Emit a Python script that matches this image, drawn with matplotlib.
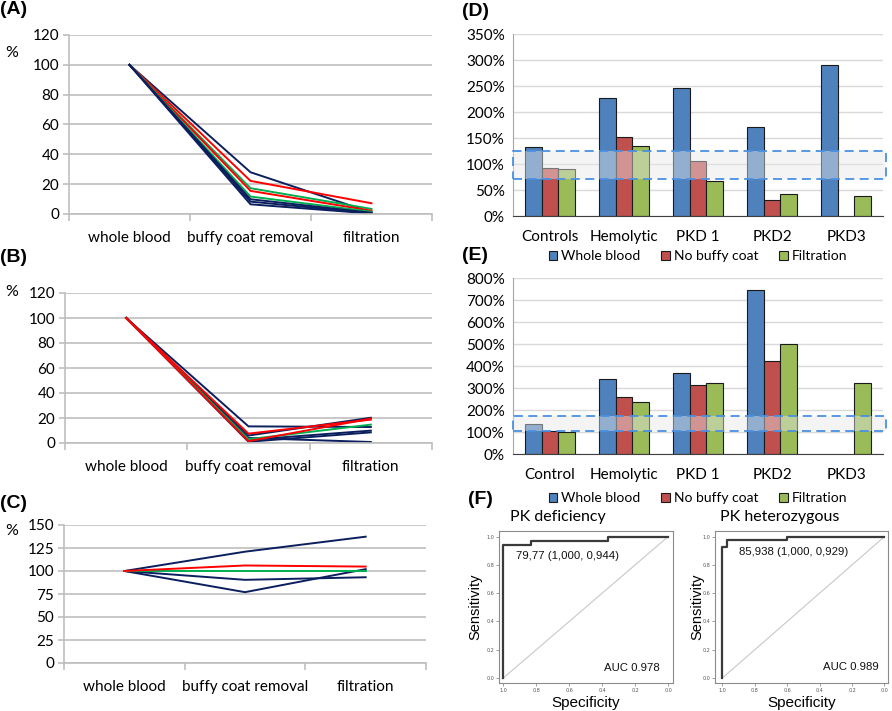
import matplotlib
matplotlib.use("Agg")
import matplotlib.pyplot as plt
from matplotlib.patches import Rectangle
import numpy as np

W, H = 892, 711
fig = plt.figure(figsize=(W / 100, H / 100), dpi=100)

LAT = "Lato"
ARI = "Liberation Sans"
NAVY = "#0B1F5E"
RED = "#FF0000"
GREEN = "#00B050"
GRID = "#BFBFBF"

# ---------------- data ----------------
steps = ["whole blood", "buffy coat removal", "filtration"]

# panel A: % of whole blood value
A_colors = [NAVY, RED, GREEN, RED, GREEN, NAVY, NAVY, NAVY]
A_values = [
    [100, 28.0, 1.0],
    [100, 22.2, 7.2],
    [100, 17.3, 3.4],
    [100, 15.5, 2.2],
    [100, 11.7, 1.5],
    [100, 9.9, 0.8],
    [100, 8.3, 0.5],
    [100, 6.5, 0.3],
]
# panel B
B_colors = [NAVY, NAVY, NAVY, NAVY, NAVY, GREEN, RED, RED]
B_values = [
    [100, 13.3, 12.8],
    [100, 6.0, 20.2],
    [100, 2.5, 9.9],
    [100, 1.0, 8.5],
    [100, 4.0, 0.8],
    [100, 3.0, 14.7],
    [100, 7.5, 18.7],
    [100, 1.5, 19.5],
]
# panel C
C_colors = [NAVY, NAVY, NAVY, GREEN, RED]
C_values = [
    [100, 121, 137.3],
    [100, 90.4, 93.2],
    [100, 77, 102],
    [100, 100, 100],
    [100, 106, 104.8],
]

D_categories = ["Controls", "Hemolytic", "PKD 1", "PKD2", "PKD3"]
D_whole = [133, 227, 246, 171, 290]
D_nobuffy = [92, 152, 106, 31, np.nan]
D_filtr = [90, 135, 67, 43, 39]
D_band = (72, 125)

E_categories = ["Control", "Hemolytic", "PKD 1", "PKD2", "PKD3"]
E_whole = [138, 343, 370, 747, np.nan]
E_nobuffy = [103, 259, 313, 423, np.nan]
E_filtr = [102, 235, 325, 501, 322]
E_band = (106, 175)

series_names = ["Whole blood", "No buffy coat", "Filtration"]
bar_colors = ["#4F81BD", "#C0504D", "#9BBB59"]

# ROC curves (specificity, sensitivity)
roc1_spec = [1.0, 1.0, 0.83, 0.83, 0.365, 0.365, 0.0]
roc1_sens = [0.0, 0.944, 0.944, 0.972, 0.972, 1.0, 1.0]
roc2_spec = [1.0, 1.0, 0.973, 0.973, 0.599, 0.599, 0.0]
roc2_sens = [0.0, 0.929, 0.929, 0.976, 0.976, 1.0, 1.0]


def add_ax(l, t, r, b):
    return fig.add_axes([l / W, 1 - b / H, (r - l) / W, (b - t) / H])


def fig_text(x, y, s, **kw):
    fig.text(x / W, 1 - y / H, s, **kw)


# ---------------- line panels ----------------
def line_panel(box, values, colors, ymax, ystep, pct_y):
    ax = add_ax(*box)
    x = np.arange(len(steps))
    for v, c in zip(values, colors):
        ax.plot(x, v, color=c, lw=1.4, solid_joinstyle="miter")
    ax.set_xlim(-0.5, 2.5)
    ax.set_ylim(0, ymax)
    ax.set_yticks(np.arange(0, ymax + 1, ystep))
    ax.yaxis.grid(True, color=GRID, lw=1.2)
    ax.set_axisbelow(True)
    for s in ["top", "right"]:
        ax.spines[s].set_visible(False)
    ax.spines["left"].set_color(GRID)
    ax.spines["bottom"].set_color(GRID)
    ax.spines["left"].set_linewidth(1.2)
    ax.spines["bottom"].set_linewidth(1.2)
    ax.set_xticks(x)
    ax.set_xticklabels(steps, fontfamily=LAT, fontsize=11)
    ax.set_xticks([-0.5, 0.5, 1.5, 2.5], minor=True)
    ax.tick_params(axis="x", which="major", length=0, pad=12)
    ax.tick_params(axis="x", which="minor", length=5, color=GRID, width=1.2)
    ax.tick_params(axis="y", length=4, color=GRID, width=1.2, pad=3)
    for lab in ax.get_yticklabels():
        lab.set_fontfamily(LAT)
        lab.set_fontsize(11)
    fig_text(12, pct_y, "%", fontfamily=LAT, fontsize=11.5, ha="center", va="center")
    return ax


line_panel((69, 35, 432, 214), A_values, A_colors, 120, 20, 53)
line_panel((65, 293, 432, 443), B_values, B_colors, 120, 20, 292)
line_panel((64, 525, 426, 663), C_values, C_colors, 150, 25, 531)


# ---------------- bar panels ----------------
def bar_panel(box, cats, series, ymax, ystep, band, leg_y):
    ax = add_ax(*box)
    x = np.arange(len(cats))
    bw = 0.225
    handles = []
    for i, (vals, col, name) in enumerate(zip(series, bar_colors, series_names)):
        h = ax.bar(x + (i - 1) * bw, vals, bw, color=col, edgecolor="#1A1A1A",
                   lw=0.8, label=name, zorder=2)
        handles.append(h)
    ax.set_xlim(-0.5, len(cats) - 0.5)
    ax.set_ylim(0, ymax)
    ax.set_yticks(np.arange(0, ymax + 1, ystep))
    ax.set_yticklabels([f"{int(v)}%" for v in np.arange(0, ymax + 1, ystep)],
                       fontfamily=LAT, fontsize=11)
    ax.yaxis.grid(True, color="#D9D9D9", lw=1.0)
    ax.set_axisbelow(True)
    for s in ["top", "right"]:
        ax.spines[s].set_visible(False)
    ax.spines["left"].set_color("#A6A6A6")
    ax.spines["bottom"].set_color("#404040")
    ax.set_xticks(x)
    ax.set_xticklabels(cats, fontfamily=LAT, fontsize=11)
    ax.tick_params(axis="x", length=0, pad=10)
    ax.tick_params(axis="y", length=0, pad=6)
    rect = Rectangle((-0.5, band[0]), len(cats) + 0.045, band[1] - band[0],
                     facecolor="#E8E8E8", alpha=0.45, edgecolor="none",
                     zorder=3, clip_on=False)
    ax.add_patch(rect)
    rect2 = Rectangle((-0.5, band[0]), len(cats) + 0.045, band[1] - band[0],
                      facecolor="none", edgecolor="#4A90E2", lw=1.3,
                      ls=(0, (5, 3)), zorder=4, clip_on=False)
    ax.add_patch(rect2)
    ax.legend(handles=handles, loc="center", bbox_to_anchor=(0.5, leg_y),
              ncol=3, frameon=False, handlelength=0.6, handleheight=0.6,
              handletextpad=0.3, columnspacing=1.5,
              prop={"family": LAT, "size": 10})
    return ax


bar_panel((513, 34, 883, 216), D_categories, [D_whole, D_nobuffy, D_filtr],
          350, 50, D_band, -0.22)
bar_panel((513, 278, 883, 454), E_categories, [E_whole, E_nobuffy, E_filtr],
          800, 100, E_band, -0.25)


# ---------------- ROC panels ----------------
def roc_panel(box, xl, yl, spec, sens, title, tx, note, note_xy, auc, auc_xy, ylab_x):
    ax = add_ax(*box)
    ax.plot([1, 0], [0, 1], color="#C8C8C8", lw=0.8)
    ax.plot(spec, sens, color="#3A3A3A", lw=1.6)
    ax.set_xlim(*xl)
    ax.set_ylim(*yl)
    ticks = [1.0, 0.8, 0.6, 0.4, 0.2, 0.0]
    ax.set_xticks(ticks)
    ax.set_yticks(ticks)
    ax.set_xticklabels([f"{t:.1f}" for t in ticks], fontsize=3.5, color="#555555")
    ax.set_yticklabels([f"{t:.1f}" for t in ticks], fontsize=3.5, color="#555555")
    ax.tick_params(length=2, width=0.5, color="#777777", pad=1.5)
    for s in ax.spines.values():
        s.set_color("#8C8C8C")
        s.set_linewidth(0.8)
    ax.text(note_xy[0], note_xy[1], note, fontfamily=ARI, fontsize=8.2,
            ha="left", va="center", color="#111111")
    ax.text(auc_xy[0], auc_xy[1], auc, fontfamily=ARI, fontsize=8.2,
            ha="left", va="center", color="#111111")
    cx = (box[0] + box[2]) / 2
    fig_text(cx, 703, "Specificity", fontfamily=ARI, fontsize=11,
             ha="center", va="center")
    fig_text(ylab_x, 607, "Sensitivity", fontfamily=ARI, fontsize=10.5,
             ha="center", va="center", rotation=90)
    fig_text(tx, 517, title, fontfamily=LAT, fontsize=11.5, ha="left", va="center")
    return ax


roc_panel((499, 531, 673, 683), (1.026, -0.03), (-0.035, 1.04),
          roc1_spec, roc1_sens, "PK deficiency", 510,
          "79,77 (1,000, 0,944)", (0.92, 0.865), "AUC 0.978", (0.39, 0.07), 475)
roc_panel((715, 531, 888, 683), (1.045, -0.022), (-0.035, 1.04),
          roc2_spec, roc2_sens, "PK heterozygous", 720,
          "85,938 (1,000, 0,929)", (0.9, 0.89), "AUC 0.989", (0.38, 0.08), 697)

# ---------------- panel labels ----------------
for lab, x, y in [("(A)", 0, 10), ("(B)", 0, 258), ("(C)", 0, 504),
                  ("(D)", 462, 12), ("(E)", 462, 256), ("(F)", 468, 500)]:
    fig_text(x, y, lab, fontfamily=ARI, fontweight="bold", fontsize=14,
             ha="left", va="center")

fig.savefig("out.png", dpi=100, facecolor="white")
